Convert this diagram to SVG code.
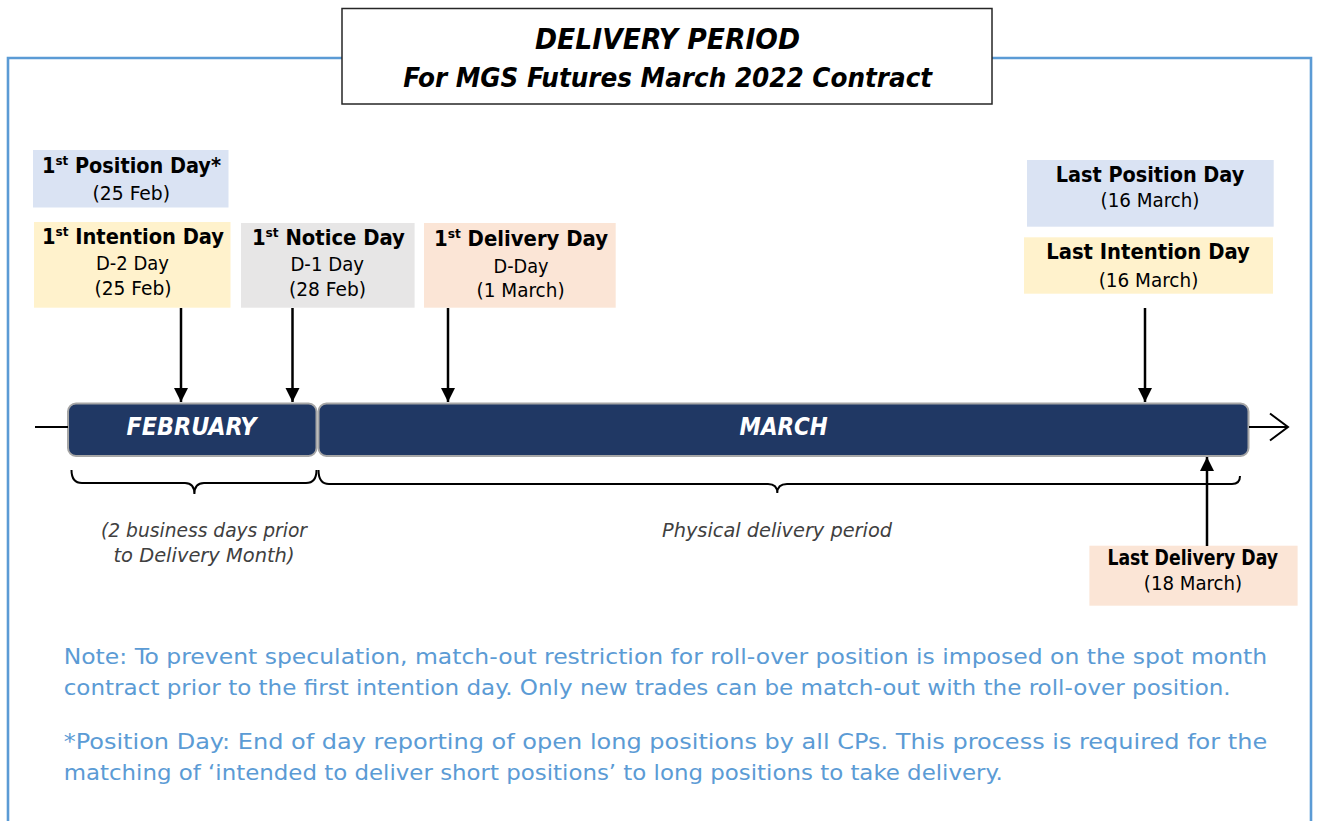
<svg xmlns="http://www.w3.org/2000/svg" width="1317" height="821" viewBox="0 0 1317 821">
<style>
text{font-family:"DejaVu Sans Condensed","DejaVu Sans",sans-serif;}
.ttl{font-weight:bold;font-style:italic;fill:#000;text-anchor:middle;}
.lb{font-weight:bold;font-size:21px;fill:#000;text-anchor:middle;}
.rg{font-size:19px;fill:#000;text-anchor:middle;}
.sup{font-size:13px;}
.bar{fill:#203864;stroke:#A6A6A6;stroke-width:2;}
.bt{font-weight:bold;font-style:italic;font-size:25px;fill:#fff;text-anchor:middle;}
.it{font-style:italic;font-size:19.5px;fill:#404040;text-anchor:middle;}
.note{font-size:21px;fill:#5B9BD5;}
.ln{stroke:#000;stroke-width:2.5;fill:none;}
.br{stroke:#000;stroke-width:2;fill:none;}
</style>
<defs>
<marker id="ah" markerUnits="userSpaceOnUse" markerWidth="16" markerHeight="16" refX="14" refY="7" orient="auto">
<path d="M0,0 L14,7 L0,14 Z" fill="#000"/>
</marker>
</defs>
<rect width="1317" height="821" fill="#fff"/>
<g id="frame">
<path d="M342,58 H8 V830 M992,58 H1311 V830" fill="none" stroke="#5B9BD5" stroke-width="2.6"/>
</g>
<g id="title">
<rect x="342" y="8.5" width="650" height="95.5" fill="#fff" stroke="#262626" stroke-width="1.5"/>
<text class="ttl" x="667.5" y="49" font-size="29" textLength="265" lengthAdjust="spacingAndGlyphs">DELIVERY PERIOD</text>
<text class="ttl" x="667.7" y="87" font-size="27" textLength="529" lengthAdjust="spacingAndGlyphs">For MGS Futures March 2022 Contract</text>
</g>
<g id="first-position-day">
<rect x="33" y="150" width="195.5" height="57.5" fill="#DAE3F3"/>
<text class="lb" x="131.5" y="173" textLength="179" lengthAdjust="spacingAndGlyphs">1<tspan class="sup" dy="-8">st</tspan><tspan dy="8"> Position Day*</tspan></text>
<text class="rg" x="131.3" y="200" textLength="77.5" lengthAdjust="spacingAndGlyphs">(25 Feb)</text>
</g>
<g id="first-intention-day">
<rect x="34" y="222" width="196.5" height="85.7" fill="#FFF2CC"/>
<text class="lb" x="133" y="244" textLength="182" lengthAdjust="spacingAndGlyphs">1<tspan class="sup" dy="-8">st</tspan><tspan dy="8"> Intention Day</tspan></text>
<text class="rg" x="132.5" y="270" textLength="73" lengthAdjust="spacingAndGlyphs">D-2 Day</text>
<text class="rg" x="133" y="295" textLength="77" lengthAdjust="spacingAndGlyphs">(25 Feb)</text>
</g>
<g id="first-notice-day">
<rect x="241" y="223" width="173.6" height="84.7" fill="#E7E6E6"/>
<text class="lb" x="328.4" y="245" textLength="153" lengthAdjust="spacingAndGlyphs">1<tspan class="sup" dy="-8">st</tspan><tspan dy="8"> Notice Day</tspan></text>
<text class="rg" x="327.2" y="271" textLength="73.6" lengthAdjust="spacingAndGlyphs">D-1 Day</text>
<text class="rg" x="327.5" y="296" textLength="77" lengthAdjust="spacingAndGlyphs">(28 Feb)</text>
</g>
<g id="first-delivery-day">
<rect x="424" y="223" width="191.7" height="84.7" fill="#FBE5D6"/>
<text class="lb" x="521" y="246" textLength="174" lengthAdjust="spacingAndGlyphs">1<tspan class="sup" dy="-8">st</tspan><tspan dy="8"> Delivery Day</tspan></text>
<text class="rg" x="521" y="273" textLength="55" lengthAdjust="spacingAndGlyphs">D-Day</text>
<text class="rg" x="520.6" y="297" textLength="88" lengthAdjust="spacingAndGlyphs">(1 March)</text>
</g>
<g id="last-position-day">
<rect x="1027" y="160" width="246.7" height="66.7" fill="#DAE3F3"/>
<text class="lb" x="1150" y="181.7" textLength="188.5" lengthAdjust="spacingAndGlyphs">Last Position Day</text>
<text class="rg" x="1150" y="207" textLength="99" lengthAdjust="spacingAndGlyphs">(16 March)</text>
</g>
<g id="last-intention-day">
<rect x="1024" y="237.3" width="249" height="56.4" fill="#FFF2CC"/>
<text class="lb" x="1148" y="259.3" textLength="203.6" lengthAdjust="spacingAndGlyphs">Last Intention Day</text>
<text class="rg" x="1148.5" y="287" textLength="99.7" lengthAdjust="spacingAndGlyphs">(16 March)</text>
</g>
<g id="last-delivery-day">
<rect x="1089.4" y="545.7" width="208.2" height="60" fill="#FBE5D6"/>
<text class="lb" x="1192.7" y="565" font-size="18" textLength="170.6" lengthAdjust="spacingAndGlyphs">Last Delivery Day</text>
<text class="rg" x="1193" y="590" textLength="98.4" lengthAdjust="spacingAndGlyphs">(18 March)</text>
</g>
<g id="february">
<rect class="bar" x="68" y="403.5" width="248.5" height="52.5" rx="8"/>
<text class="bt" x="191.5" y="435" textLength="130" lengthAdjust="spacingAndGlyphs">FEBRUARY</text>
</g>
<g id="march">
<rect class="bar" x="318.5" y="403.5" width="930" height="52.5" rx="8"/>
<text class="bt" x="783.6" y="435" textLength="88" lengthAdjust="spacingAndGlyphs">MARCH</text>
</g>
<g id="connectors">
<line class="ln" x1="181" y1="308" x2="181" y2="402" marker-end="url(#ah)"/>
<line class="ln" x1="292.5" y1="308" x2="292.5" y2="402" marker-end="url(#ah)"/>
<line class="ln" x1="448" y1="308" x2="448" y2="402" marker-end="url(#ah)"/>
<line class="ln" x1="1145" y1="308" x2="1145" y2="402" marker-end="url(#ah)"/>
<line class="ln" x1="1207" y1="546" x2="1207" y2="457" marker-end="url(#ah)"/>
<line x1="35" y1="427" x2="68" y2="427" stroke="#000" stroke-width="2"/>
<line x1="1249" y1="427" x2="1288" y2="427" stroke="#000" stroke-width="2"/>
<path d="M1270,413.5 L1288,427 L1270,440.5" fill="none" stroke="#000" stroke-width="2"/>
</g>
<g id="braces">
<path class="br" d="M71.5,470 Q71.5,483 82,483 L185,483 Q194.4,483 194.4,494 Q194.4,483 204,483 L306,483 Q316.5,483 316.5,470"/>
<path class="br" d="M318.5,470 Q318.5,484 329,484 L768,484 Q777.3,484 777.3,493 Q777.3,484 787,484 L1232,484 Q1240,484 1240,476"/>
</g>
<g id="brace-labels">
<text class="it" x="204" y="537" textLength="206" lengthAdjust="spacingAndGlyphs">(2 business days prior</text>
<text class="it" x="204" y="562" textLength="181" lengthAdjust="spacingAndGlyphs">to Delivery Month)</text>
<text class="it" x="777" y="537" textLength="230" lengthAdjust="spacingAndGlyphs">Physical delivery period</text>
</g>
<g id="notes">
<text class="note" x="63.7" y="663.5" textLength="1203.5" lengthAdjust="spacingAndGlyphs">Note: To prevent speculation, match-out restriction for roll-over position is imposed on the spot month</text>
<text class="note" x="63.7" y="695" textLength="1167" lengthAdjust="spacingAndGlyphs">contract prior to the first intention day. Only new trades can be match-out with the roll-over position.</text>
<text class="note" x="63.7" y="748.5" textLength="1203.5" lengthAdjust="spacingAndGlyphs">*Position Day: End of day reporting of open long positions by all CPs. This process is required for the</text>
<text class="note" x="63.7" y="779.5" textLength="939" lengthAdjust="spacingAndGlyphs">matching of ‘intended to deliver short positions’ to long positions to take delivery.</text>
</g>
</svg>
